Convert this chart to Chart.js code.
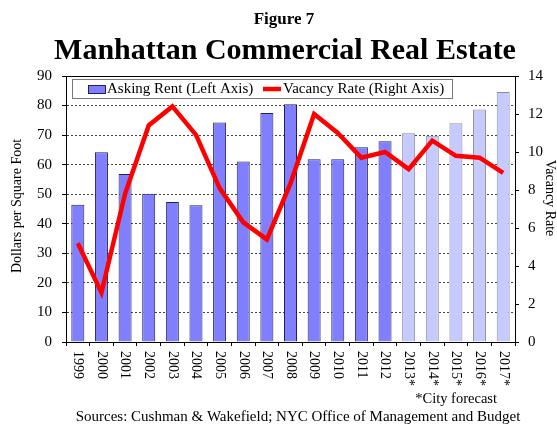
<!DOCTYPE html>
<html>
<head>
<meta charset="utf-8">
<script src="https://cdn.jsdelivr.net/npm/chart.js@4.4.4/dist/chart.umd.min.js"></script>
<style>
  html, body { margin: 0; padding: 0; background: #fff; }
  #wrap { width: 557px; height: 426px; }
</style>
</head>
<body>
<div id="wrap"><canvas id="chart" width="557" height="426"></canvas></div>
<script>
// Figure 7 — Manhattan Commercial Real Estate
// asking rent (bars, left axis) vs vacancy rate (line, right axis)

const years = ['1999', '2000', '2001', '2002', '2003', '2004', '2005', '2006', '2007', '2008',
  '2009', '2010', '2011', '2012', '2013*', '2014*', '2015*', '2016*', '2017*'];
const askingRent = [46.4, 64.2, 56.8, 50.2, 47.4, 46.3, 74.3, 61.1, 77.5, 80.4,
  61.8, 61.8, 65.9, 67.9, 70.6, 69.8, 74.0, 78.7, 84.6];
const vacancyRate = [5.2, 2.6, 7.8, 11.4, 12.4, 10.9, 8.1, 6.3, 5.4, 8.35,
  12.0, 11.0, 9.7, 10.0, 9.1, 10.6, 9.8, 9.7, 8.9];
const rentTicks = [0, 10, 20, 30, 40, 50, 60, 70, 80, 90];
const vacancyTicks = [0, 2, 4, 6, 8, 10, 12, 14];

const SERIF = "'Liberation Serif', 'Times New Roman', serif";
const isForecast = (label) => label.endsWith('*');

function rotatedText(ctx, text, x, y, angle) {
  ctx.save();
  ctx.translate(x, y);
  ctx.rotate(angle);
  ctx.fillText(text, 0, 0);
  ctx.restore();
}

// titles, legend box, axis titles, rotated year labels and footnotes
const decorations = {
  id: 'decorations',
  afterDraw(chart) {
    const { ctx, chartArea: area, scales } = chart;
    ctx.save();

    // top frame line
    ctx.strokeStyle = '#000';
    ctx.lineWidth = 1;
    ctx.beginPath();
    ctx.moveTo(area.left, area.top + 0.5);
    ctx.lineTo(area.right, area.top + 0.5);
    ctx.stroke();

    // titles
    ctx.fillStyle = '#000';
    ctx.textAlign = 'center';
    ctx.textBaseline = 'alphabetic';
    ctx.font = `bold 17px ${SERIF}`;
    ctx.fillText('Figure 7', 284, 24);
    ctx.font = `bold 30px ${SERIF}`;
    ctx.fillText('Manhattan Commercial Real Estate', 285, 59);

    // legend
    const lx = area.left + 6, ly = area.top + 3, lw = 380, lh = 19;
    ctx.fillStyle = '#fff';
    ctx.fillRect(lx, ly, lw, lh);
    ctx.lineWidth = 1;
    ctx.strokeStyle = '#777';
    ctx.strokeRect(lx + 0.5, ly + 0.5, lw, lh);
    ctx.fillStyle = '#8080ff';
    ctx.fillRect(lx + 16, ly + 6, 17, 8);
    ctx.strokeStyle = '#202060';
    ctx.strokeRect(lx + 16.5, ly + 6.5, 17, 8);
    ctx.strokeStyle = '#ff0000';
    ctx.lineWidth = 4.5;
    ctx.beginPath();
    ctx.moveTo(lx + 191, ly + 10);
    ctx.lineTo(lx + 209, ly + 10);
    ctx.stroke();
    ctx.fillStyle = '#000';
    ctx.font = `15px ${SERIF}`;
    ctx.textAlign = 'left';
    ctx.textBaseline = 'middle';
    ctx.fillText('Asking Rent (Left Axis)', lx + 35, ly + 10);
    ctx.fillText('Vacancy Rate (Right Axis)', lx + 211, ly + 10);

    // axis titles
    ctx.font = `14px ${SERIF}`;
    ctx.textAlign = 'center';
    ctx.textBaseline = 'middle';
    rotatedText(ctx, 'Dollars per Square Foot', 17, (area.top + area.bottom) / 2 - 3, -Math.PI / 2);
    rotatedText(ctx, 'Vacancy Rate', 550, 198, Math.PI / 2);

    // year labels, rotated clockwise to read top-down
    ctx.font = `14px ${SERIF}`;
    ctx.textAlign = 'left';
    const xs = scales.x;
    years.forEach((label, i) => {
      rotatedText(ctx, label, xs.getPixelForValue(i), area.bottom + 9, Math.PI / 2);
    });

    // footnotes
    ctx.textBaseline = 'alphabetic';
    ctx.font = `14.5px ${SERIF}`;
    ctx.textAlign = 'right';
    ctx.fillText('*City forecast', 497, 403);
    ctx.font = `15px ${SERIF}`;
    ctx.textAlign = 'center';
    ctx.fillText('Sources: Cushman & Wakefield; NYC Office of Management and Budget', 298, 421);

    ctx.restore();
  },
};

new Chart(document.getElementById('chart'), {
  type: 'bar',
  data: {
    labels: years,
    datasets: [
      {
        type: 'line',
        label: 'Vacancy Rate (Right Axis)',
        data: vacancyRate,
        yAxisID: 'y1',
        borderColor: '#ff0000',
        borderWidth: 4.5,
        pointRadius: 0,
        tension: 0,
        order: 0,
      },
      {
        label: 'Asking Rent (Left Axis)',
        data: askingRent,
        yAxisID: 'y',
        backgroundColor: years.map((y) => (isForecast(y) ? '#c6cbff' : '#8080ff')),
        borderColor: years.map((y) => (isForecast(y) ? '#8a8a9a' : '#202060')),
        borderWidth: 1,
        borderSkipped: 'bottom',
        barPercentage: 0.55,
        categoryPercentage: 1,
        order: 1,
      },
    ],
  },
  options: {
    responsive: false,
    animation: false,
    layout: { padding: { top: 76, left: 27, right: 5, bottom: 80 } },
    plugins: {
      legend: { display: false },
      tooltip: { enabled: false },
      title: { display: false },
    },
    scales: {
      x: {
        ticks: { display: false },
        grid: { drawOnChartArea: false, drawTicks: true, tickLength: 4, color: '#000', offset: true },
        border: { color: '#000', width: 1 },
      },
      y: {
        position: 'left',
        min: 0,
        max: 90,
        afterBuildTicks: (axis) => { axis.ticks = rentTicks.map((v) => ({ value: v })); },
        ticks: { color: '#000', font: { family: SERIF, size: 15 }, padding: 10 },
        grid: { color: '#444', tickLength: 4, tickColor: '#000' },
        border: { color: '#000', width: 1, dash: [2, 2] },
      },
      y1: {
        position: 'right',
        min: 0,
        max: 14,
        afterBuildTicks: (axis) => { axis.ticks = vacancyTicks.map((v) => ({ value: v })); },
        ticks: { color: '#000', font: { family: SERIF, size: 15 }, padding: 9 },
        grid: { drawOnChartArea: false, tickLength: 4, color: '#000' },
        border: { color: '#000', width: 1 },
      },
    },
  },
  plugins: [decorations],
});
</script>
</body>
</html>
